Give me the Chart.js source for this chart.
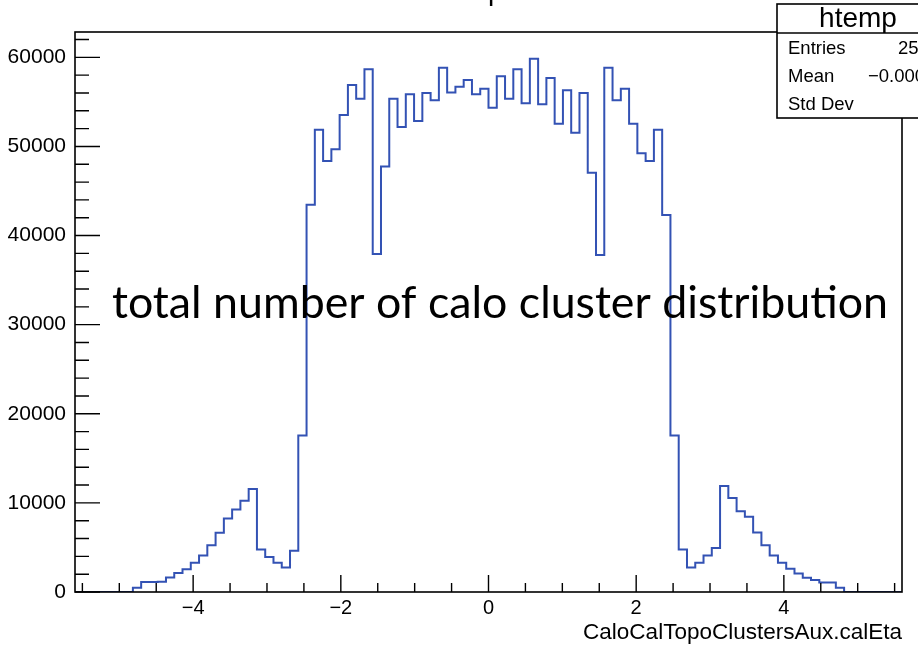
<!DOCTYPE html>
<html>
<head>
<meta charset="utf-8">
<script src="https://cdn.jsdelivr.net/npm/chart.js@4.4.1/dist/chart.umd.min.js"></script>
<style>
  html, body { margin: 0; padding: 0; background: #fff; }
  canvas { display: block; }
</style>
</head>
<body>
<canvas id="etaChart" width="918" height="645"></canvas>
<script>
// histogram htemp: 100 bins of calEta from -5.6 to 5.6
var binLow = -5.6;
var binWidth = 0.112;
var binCounts = [
  0, 0, 0, 0, 0, 0, 0, 480, 1120, 1120,
  1150, 1640, 2130, 2540, 3290, 4100, 5260, 6650, 8250, 9260,
  10230, 11570, 4780, 3920, 3290, 2760, 4630, 17550, 43460, 51860,
  48380, 49690, 53540, 56900, 55360, 58650, 37930, 47750, 55360, 52190,
  55850, 52860, 56000, 55180, 58830, 56040, 56710, 57460, 55850, 56480,
  54350, 57870, 55360, 58650, 54840, 59850, 54730, 57680, 52560, 56300,
  51550, 56000, 47040, 37820, 58830, 55180, 56480, 52560, 49240, 48380,
  51860, 42300, 17550, 4780, 2760, 3290, 4100, 4930, 11900, 10560,
  9070, 8440, 6690, 5260, 4100, 3290, 2610, 2090, 1600, 1340,
  1080, 1080, 480, 0, 0, 0, 0, 0, 0, 0
];
var xTicks = [-4, -2, 0, 2, 4];
var yTicks = [0, 10000, 20000, 30000, 40000, 50000, 60000];
var histName = 'htemp';
var varName = 'CaloCalTopoClustersAux.calEta';
var statNames = ['Entries', 'Mean', 'Std Dev'];
var statValues = ['2544580', '\u22120.0003411', '2.271'];
var overlayText = 'total number of calo cluster distribution';

var LINE_BLUE = '#3352b4';
var AXIS_FONT = '"Liberation Sans", Arial, Helvetica, sans-serif';

var points = binCounts.map(function (c, i) {
  return { x: binLow + i * binWidth, y: c };
});
points.push({ x: binLow + binCounts.length * binWidth, y: binCounts[binCounts.length - 1] });

var xMin = binLow;
var xMax = binLow + binCounts.length * binWidth;
var yMax = Math.max.apply(null, binCounts) * 1.05;

function rootMinus(v) {
  return v < 0 ? '\u2212' + Math.abs(v) : String(v);
}

var rootFrame = {
  id: 'rootFrame',
  afterDraw: function (chart) {
    var ctx = chart.ctx;
    var area = chart.chartArea;
    var xs = chart.scales.x;
    var ys = chart.scales.y;
    ctx.save();

    // frame
    ctx.strokeStyle = '#000';
    ctx.lineWidth = 1.6;
    ctx.strokeRect(area.left, area.top, area.right - area.left, area.bottom - area.top);

    // inward ticks, y axis
    ctx.lineWidth = 1.4;
    ctx.beginPath();
    for (var v = 0; v <= ys.max; v += 2000) {
      var py = ys.getPixelForValue(v);
      var len = (v % 10000 === 0) ? 25 : 14;
      ctx.moveTo(area.left, py);
      ctx.lineTo(area.left + len, py);
    }
    // inward ticks, x axis
    for (var i = -11; i <= 11; i++) {
      var px = xs.getPixelForValue(i / 2);
      var l2 = (i % 4 === 0) ? 17 : 9;
      ctx.moveTo(px, area.bottom);
      ctx.lineTo(px, area.bottom - l2);
    }
    ctx.stroke();

    // title, cut off by the top of the picture
    ctx.fillStyle = '#000';
    ctx.font = '28px ' + AXIS_FONT;
    ctx.textBaseline = 'alphabetic';
    ctx.textAlign = 'left';
    var pre = ctx.measureText('CaloCalTo').width;
    ctx.fillText(varName, 488 - pre, -0.5);

    // stats box
    var bx = 777, by = 4, bw = 164, bh = 114;
    ctx.fillStyle = '#fff';
    ctx.fillRect(bx, by, bw, bh);
    ctx.strokeStyle = '#000';
    ctx.lineWidth = 1.6;
    ctx.strokeRect(bx, by, bw, bh);
    ctx.beginPath();
    ctx.moveTo(bx, 33);
    ctx.lineTo(bx + bw, 33);
    ctx.stroke();
    ctx.fillStyle = '#000';
    ctx.textAlign = 'center';
    ctx.textBaseline = 'middle';
    ctx.font = '28px ' + AXIS_FONT;
    ctx.fillText(histName, 858, 19);
    ctx.font = '18.5px ' + AXIS_FONT;
    ctx.textAlign = 'left';
    var valueX = [898, 868, 930];
    statNames.forEach(function (name, k) {
      var ry = 49 + k * 28;
      ctx.fillText(name, 788, ry);
      ctx.fillText(statValues[k], valueX[k], ry);
    });

    // pasted annotation
    ctx.font = '40px Lato, "Open Sans", sans-serif';
    var w = ctx.measureText(overlayText).width;
    var size = 40 * 776 / w;
    ctx.font = size.toFixed(1) + 'px Lato, "Open Sans", sans-serif';
    ctx.textAlign = 'center';
    ctx.textBaseline = 'alphabetic';
    ctx.fillText(overlayText, 500, 318);

    ctx.restore();
  }
};

new Chart(document.getElementById('etaChart'), {
  type: 'line',
  data: {
    datasets: [{
      label: histName,
      data: points,
      stepped: true,
      borderColor: LINE_BLUE,
      borderWidth: 2,
      pointRadius: 0,
      fill: false,
      tension: 0
    }]
  },
  options: {
    responsive: false,
    animation: false,
    layout: { padding: { left: 0, right: 16, top: 32, bottom: 0 } },
    plugins: { legend: { display: false }, tooltip: { enabled: false }, title: { display: false } },
    scales: {
      x: {
        type: 'linear',
        min: xMin,
        max: xMax,
        grid: { display: false, drawTicks: false },
        border: { display: false },
        afterBuildTicks: function (s) {
          s.ticks = xTicks.map(function (v) { return { value: v }; });
        },
        afterFit: function (s) { s.height = 53; },
        ticks: {
          autoSkip: false,
          maxRotation: 0,
          padding: 4,
          color: '#000',
          font: { family: AXIS_FONT, size: 20 },
          callback: function (v) { return rootMinus(v); }
        },
        title: {
          display: true,
          text: varName,
          align: 'end',
          color: '#000',
          font: { family: AXIS_FONT, size: 22.5 },
          padding: { top: 0, bottom: -1 }
        }
      },
      y: {
        type: 'linear',
        min: 0,
        max: yMax,
        grid: { display: false, drawTicks: false },
        border: { display: false },
        afterBuildTicks: function (s) {
          s.ticks = yTicks.map(function (v) { return { value: v }; });
        },
        afterFit: function (s) { s.width = 75; },
        ticks: {
          padding: 9,
          color: '#000',
          font: { family: AXIS_FONT, size: 21 },
          callback: function (v) { return String(v); }
        }
      }
    }
  },
  plugins: [rootFrame]
});
</script>
</body>
</html>
